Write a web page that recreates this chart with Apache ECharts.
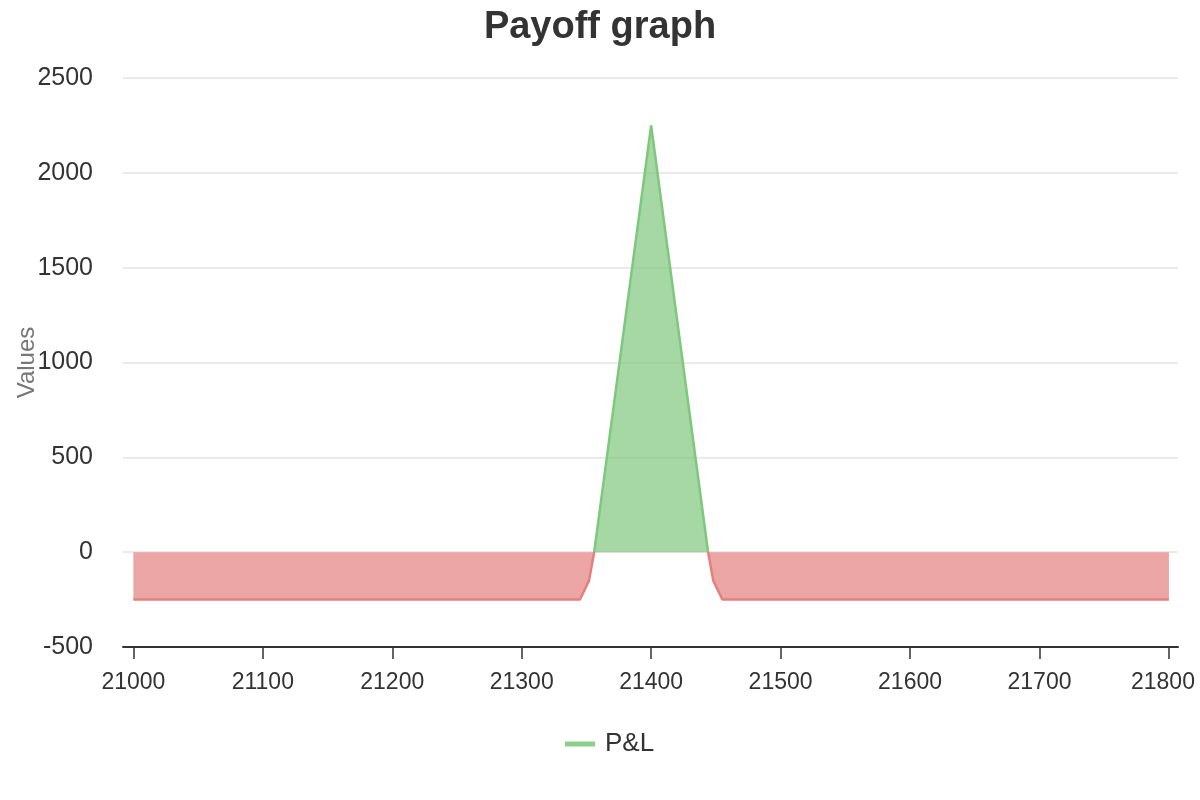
<!DOCTYPE html>
<html>
<head>
<meta charset="utf-8">
<script src="https://cdn.jsdelivr.net/npm/echarts@6/dist/echarts.min.js"></script>
<style>
html,body{margin:0;padding:0;background:#fff;}
#chart{width:1200px;height:800px;}
</style>
</head>
<body>
<div id="chart"></div>
<script>
// Underlying prices (x) and P&L values
var prices = [21000, 21345, 21352, 21356, 21400, 21444, 21448, 21455, 21800];
var pnl    = [-250, -250, -150, 0, 2250, 0, -150, -250, -250];
var xTicks = [21000, 21100, 21200, 21300, 21400, 21500, 21600, 21700, 21800];
var seriesName = 'P&L';

var FONT = '"Liberation Sans", Arial, sans-serif';
var chart = echarts.init(document.getElementById('chart'));
var data = prices.map(function (p, i) { return [p, pnl[i]]; });
var lastTick = xTicks[xTicks.length - 1];

chart.setOption({
  animation: false,
  backgroundColor: '#fff',
  title: {
    text: 'Payoff graph',
    left: 'center',
    top: 4,
    textStyle: { fontFamily: FONT, fontSize: 38, fontWeight: 'bold', color: '#333' }
  },
  grid: { left: 123, right: 22, top: 78, bottom: 153, containLabel: false, outerBoundsMode: 'none' },
  xAxis: {
    type: 'value',
    min: 20992,
    max: 21807,
    splitLine: { show: false },
    axisLine: { show: true, onZero: false, lineStyle: { color: '#333', width: 2 } },
    axisTick: { show: true, length: 12, customValues: xTicks, lineStyle: { color: '#333', width: 1.5 } },
    axisLabel: {
      customValues: xTicks,
      margin: 24,
      hideOverlap: false,
      formatter: function (v) { return v === lastTick ? '{last|' + v + '}' : String(v); },
      rich: { last: { fontFamily: FONT, fontSize: 23, color: '#333', padding: [0, 12, 0, 0] } },
      fontFamily: FONT, fontSize: 23, color: '#333'
    }
  },
  yAxis: {
    type: 'value',
    min: -500,
    max: 2500,
    interval: 500,
    name: 'Values',
    nameLocation: 'middle',
    nameGap: 84,
    nameMoveOverlap: false,
    nameTextStyle: { fontFamily: FONT, fontSize: 24, color: '#777' },
    axisLine: { show: false },
    axisTick: { show: false },
    axisLabel: {
      margin: 30,
      formatter: function (v) { return String(v); },
      fontFamily: FONT, fontSize: 25, color: '#333'
    },
    splitLine: { lineStyle: { color: '#e3e3e3', width: 1.5 } }
  },
  visualMap: {
    show: false,
    type: 'piecewise',
    dimension: 1,
    seriesIndex: 0,
    pieces: [
      { gte: -1000, lt: 0, color: '#E47F7E' },
      { gte: 0, lte: 3000, color: '#7EC77C' }
    ]
  },
  legend: {
    bottom: 43,
    left: 565,
    icon: 'rect',
    itemWidth: 30,
    itemHeight: 5,
    itemGap: 10,
    padding: 0,
    data: [{ name: seriesName, itemStyle: { color: '#8ad08a' } }],
    textStyle: { fontFamily: FONT, fontSize: 26, color: '#333', padding: [0, 0, 0, 5] }
  },
  series: [{
    name: seriesName,
    type: 'line',
    data: data,
    symbol: 'none',
    lineStyle: { width: 2.5 },
    itemStyle: { color: '#7EC77C' },
    areaStyle: { opacity: 0.7 }
  }]
});
</script>
</body>
</html>
